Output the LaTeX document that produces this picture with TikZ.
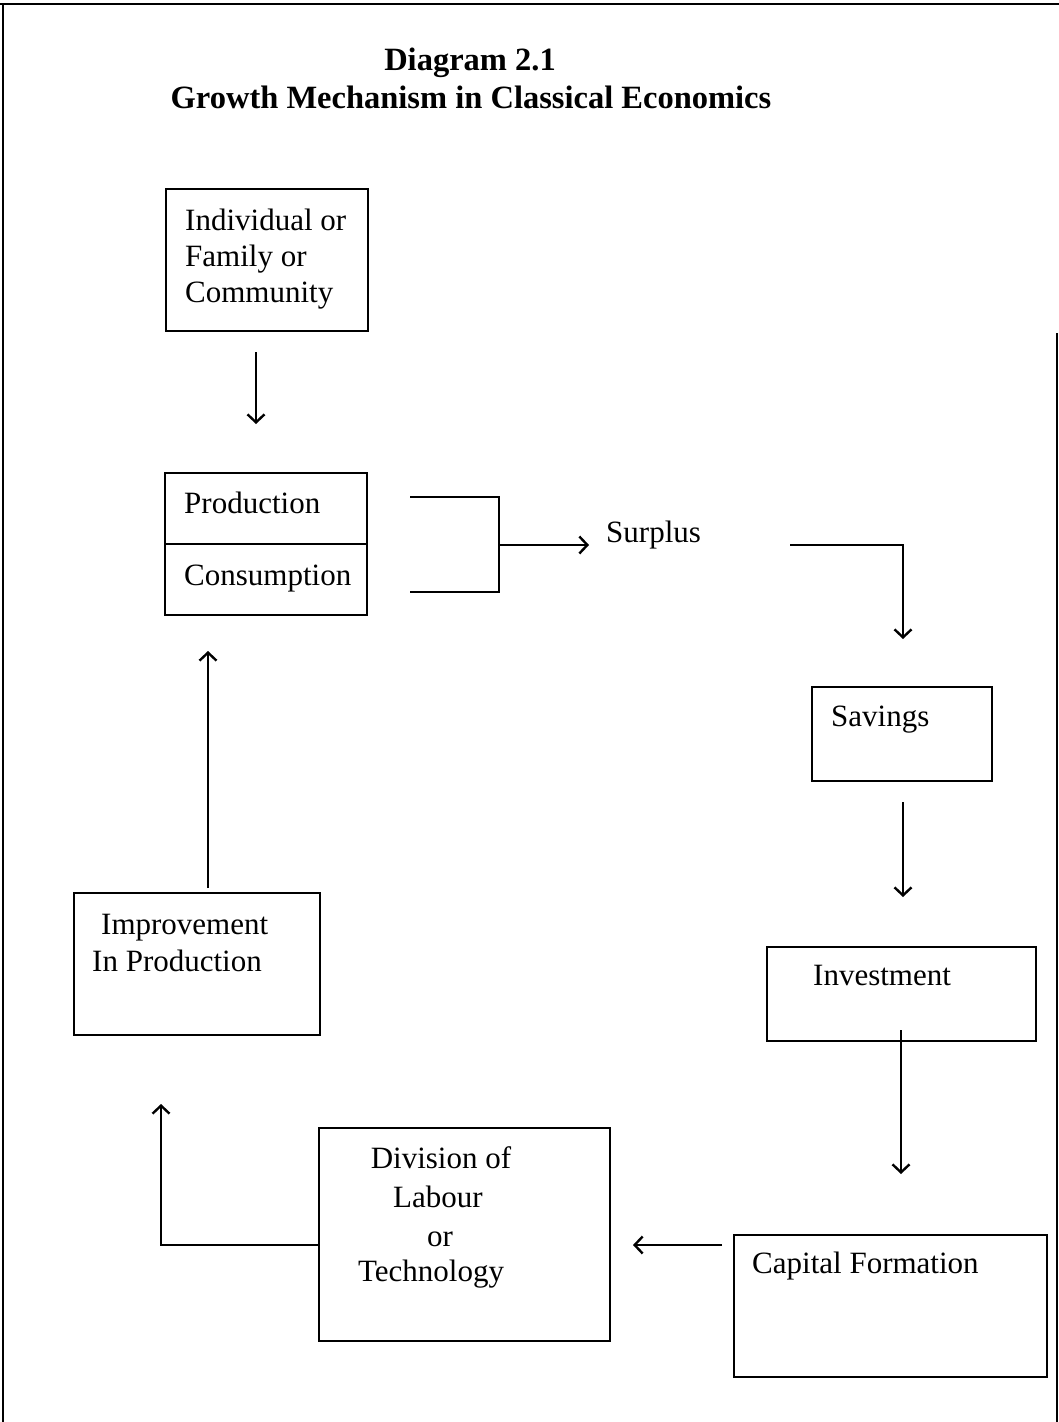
\documentclass[tikz,border=0pt]{standalone}
\usepackage{fontspec}
\setmainfont{Liberation Serif}
\usetikzlibrary{arrows.meta,calc}
\begin{document}
\begin{tikzpicture}[x=1pt,y=-1pt,
  box/.style={draw,line width=1.6pt,rectangle,inner sep=0pt,anchor=north west},
  txt/.style={anchor=base west,inner sep=0pt,font=\fontsize{31}{36}\selectfont},
  ctxt/.style={anchor=base,inner sep=0pt,font=\fontsize{31}{36}\selectfont},
  conn/.style={line width=1.8pt},
  arr/.style={conn,-{Straight Barb[length=8pt,width=17pt,line width=2.4pt]}}]
\useasboundingbox (0,0) rectangle (1059,1422);
% frame
\draw[line width=2.5pt] (0,4) -- (1059,4);
\draw[line width=1.5pt] (3,4) -- (3,1422);
\draw[line width=1.5pt] (1057,333) -- (1057,1422);
% title
\node[anchor=base,inner sep=0pt,font=\fontsize{32.5}{36}\selectfont\bfseries] (t1) at (470,70) {Diagram 2.1};
\node[anchor=base,inner sep=0pt,font=\fontsize{32.5}{36}\selectfont\bfseries] (t2) at (471,108) {Growth Mechanism in Classical Economics};
% boxes
\node[box,minimum width=202pt,minimum height=142pt] (ind) at (165,188) {};
\node[box,minimum width=202pt,minimum height=142pt] (pc) at (164,472) {};
\draw[conn] (pc.west |- 0,544) -- (pc.east |- 0,544);
\node[box,minimum width=180pt,minimum height=94pt] (sav) at (811,686) {};
\node[box,minimum width=269pt,minimum height=94pt] (inv) at (766,946) {};
\node[box,minimum width=313pt,minimum height=142pt] (cap) at (733,1234) {};
\node[box,minimum width=291pt,minimum height=213pt] (div) at (318,1127) {};
\node[box,minimum width=246pt,minimum height=142pt] (imp) at (73,892) {};
% texts
\node[txt] (indt1) at (185,230) {Individual or};
\node[txt] (indt2) at (185,266) {Family or};
\node[txt] (indt3) at (185,302) {Community};
\node[txt] (prod) at (184,513) {Production};
\node[txt] (cons) at (184,585) {Consumption};
\node[txt] (sur) at (606,542) {Surplus};
\node[txt] (savt) at (831,726) {Savings};
\node[txt] (invt) at (813,985) {Investment};
\node[txt] (capt) at (752,1273) {Capital Formation};
\node[ctxt] (d1) at (441,1168) {Division of};
\node[ctxt] (d2) at (438,1207) {Labour};
\node[ctxt] (d3) at (440,1246) {or};
\node[ctxt] (d4) at (431,1281) {Technology};
\node[txt] (im1) at (101,934) {Improvement};
\node[txt] (im2) at (92,971) {In Production};
% connector coordinates
\coordinate (a1s) at (256,352);
\coordinate (a1e) at (256,424);
\coordinate (b1) at (410,497);
\coordinate (b2) at (499,497);
\coordinate (b3) at (499,592);
\coordinate (b4) at (410,592);
\coordinate (bm) at (499,545);
\coordinate (be) at (589,545);
\coordinate (s1) at (790,545);
\coordinate (s2) at (903,545);
\coordinate (s3) at (903,639);
\coordinate (v1) at (903,802);
\coordinate (v2) at (903,897);
\coordinate (i1) at (901,1030);
\coordinate (i2) at (901,1174);
\coordinate (c1) at (722,1245);
\coordinate (c2) at (633,1245);
\coordinate (l1) at (161,1245);
\coordinate (l2) at (161,1104);
\coordinate (u1) at (208,888);
\coordinate (u2) at (208,651);
% connectors
\draw[arr] (a1s) -- (a1e);
\draw[conn] (b1) -- (b2) -- (b3) -- (b4);
\draw[arr] (bm) -- (be);
\draw[arr] (s1) -- (s2) -- (s3);
\draw[arr] (v1) -- (v2);
\draw[arr] (i1) -- (i2);
\draw[arr] (c1) -- (c2);
\draw[arr] (div.west |- l1) -- (l1) -- (l2);
\draw[arr] (u1) -- (u2);
\end{tikzpicture}
\end{document}
